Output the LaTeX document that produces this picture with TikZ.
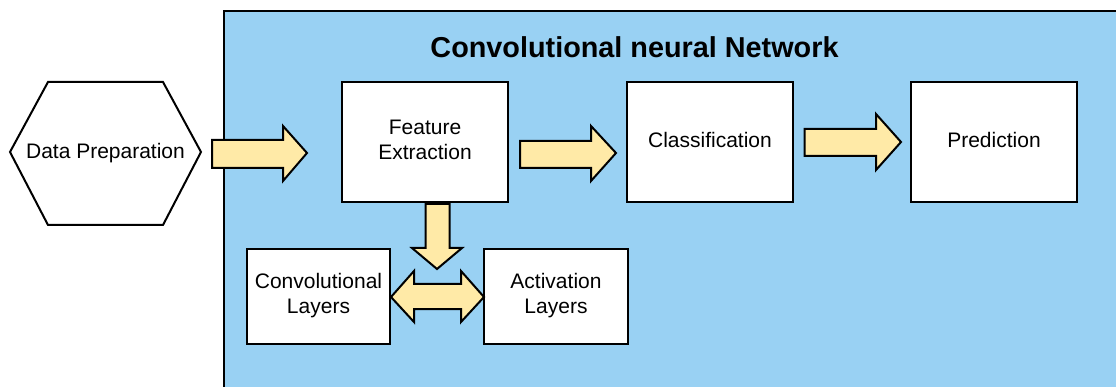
\documentclass[tikz,border=0pt]{standalone}
\usepackage{fontspec}
\setmainfont{Liberation Sans}
\definecolor{netblue}{RGB}{153,209,243}
\definecolor{arrowfill}{RGB}{255,234,167}
\tikzset{
  box/.style={draw=black, line width=2pt, fill=white},
  fatarrow/.style={draw=black, line width=2pt, fill=arrowfill, line join=miter},
  lbl/.style={font=\fontsize{21}{25}\selectfont, align=center, inner sep=0pt},
}
\begin{document}
\begin{tikzpicture}[x=1pt, y=-1pt]
\useasboundingbox (0,0) rectangle (1116,387);
% network container, running off the right and bottom edges
\begin{scope}
\clip (0,0) rectangle (1116,387);
\draw[line width=2pt, fill=netblue] (223.5,11) rectangle (1130,400);
\end{scope}
\node[font=\bfseries\fontsize{28.8}{31}\selectfont, inner sep=0pt] (title) at (634.5,47.5) {Convolutional neural Network};

% input stage
\draw[box, line join=miter] (10,152) -- (48,82) -- (163,82) -- (201,152) -- (163,225) -- (48,225) -- cycle;
\node[lbl] (prep) at (105.5,153.5) {Data Preparation};

% processing boxes
\draw[box] (342,82) rectangle (508,202);
\node[lbl] (feat) at (425,140) {Feature\\Extraction};
\draw[box] (627,82) rectangle (793,202);
\node[lbl] (cls) at (710,139.5) {Classification};
\draw[box] (911,82) rectangle (1077,202);
\node[lbl] (pred) at (994,139.5) {Prediction};
\draw[box] (247,249) rectangle (390,344);
\node[lbl] (conv) at (318.5,295.5) {Convolutional\\Layers};
\draw[box] (484,249) rectangle (628,344);
\node[lbl] (act) at (556,295.5) {Activation\\Layers};

% block arrows
\draw[fatarrow] (212,140) -- (283,140) -- (283,126) -- (307,153) -- (283,181) -- (283,168) -- (212,168) -- cycle;
\draw[fatarrow] (520,141) -- (591,141) -- (591,126) -- (616,153) -- (591,181) -- (591,168) -- (520,168) -- cycle;
\draw[fatarrow] (804.5,129) -- (876,129) -- (876,114) -- (901,142) -- (876,170) -- (876,156) -- (804.5,156) -- cycle;
\draw[fatarrow] (425.5,204) -- (449.5,204) -- (449.5,248) -- (462,248) -- (437,269) -- (412,248) -- (425.5,248) -- cycle;
\draw[fatarrow] (391,297) -- (414,271) -- (414,284) -- (461,284) -- (461,271) -- (484,297) -- (461,322) -- (461,309) -- (414,309) -- (414,322) -- cycle;
\end{tikzpicture}
\end{document}
